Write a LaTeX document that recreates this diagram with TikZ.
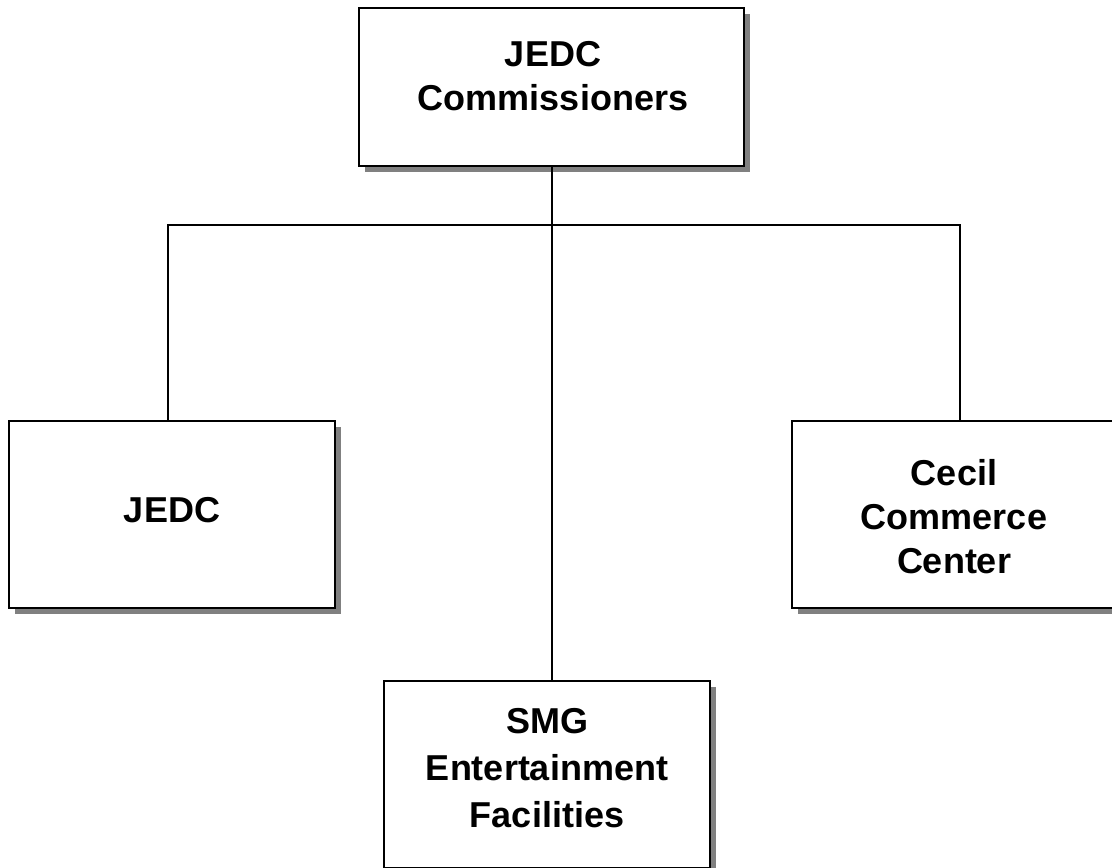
\documentclass[tikz,border=0pt]{standalone}
\usepackage{fontspec}
\setmainfont{Liberation Sans}
\usetikzlibrary{shadows}
\usetikzlibrary{positioning}

\begin{document}
\begin{tikzpicture}[x=0.5pt, y=-0.5pt,
  box/.style={draw, line width=1pt, fill=white, minimum width=163pt, minimum height=93.5pt,
    drop shadow={shadow xshift=3pt, shadow yshift=-3pt, fill=black!50, opacity=1}},
  lbl/.style={align=center, inner sep=0pt, font=\bfseries\fontsize{18}{22}\selectfont}]

\clip (0,0) rectangle (1112,867);
\useasboundingbox (0,0) rectangle (1112,867);

% boxes
\node[box, minimum width=192.5pt, minimum height=79pt] (Top) at (551.5,87) {};
\node[box] (JEDC) at (172,514.5) {};
\node[box] (CCC) at (955,514.5) {};
\node[box] (SMG) at (547,774.5) {};

% texts
\node[lbl] (Top-t) at (553,76) {JEDC\\Commissioners};
\node[lbl] (JEDC-t) at (172,510) {JEDC};
\node[lbl] (CCC-t) at (954,517) {Cecil\\Commerce\\Center};
\node[lbl, font=\bfseries\fontsize{18}{23.3}\selectfont] (SMG-t) at (547,768) {SMG\\Entertainment\\Facilities};

% lines
\coordinate (busL) at (168,225);
\coordinate (busR) at (960,225);

\draw[line width=1pt] (busL |- JEDC.north) -- (busL) -- (busR) -- (busR |- CCC.north);
\draw[line width=1pt] (Top.south) -- (Top.south |- SMG.north);
\end{tikzpicture}
\end{document}
